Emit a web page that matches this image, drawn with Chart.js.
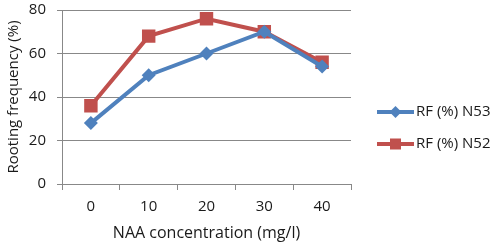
<!DOCTYPE html>
<html>
<head>
<meta charset="utf-8">
<script src="https://cdn.jsdelivr.net/npm/chart.js@4"></script>
<style>
  html, body { margin: 0; padding: 0; background: #fff; }
  #wrap { width: 500px; height: 249px; }
</style>
</head>
<body>
<div id="wrap"><canvas id="chart"></canvas></div>
<script>
var concentrations = ['0', '10', '20', '30', '40'];
var rfN53 = [28, 50, 60, 70, 54];
var rfN52 = [36, 68, 76, 70, 56];
var yTicks = [0, 20, 40, 60, 80];

var blue = '#4F81BD';
var red = '#C0504D';
var textColor = '#1a1a1a';
var fontFamily = '"Open Sans", sans-serif';

// excel-like legend: short line with the marker in the middle
var sideLegend = {
    id: 'sideLegend',
    afterDraw: function(chart) {
        var c = chart.ctx;
        var rows = [112, 144];
        chart.data.datasets.forEach(function(ds, i) {
            var y = rows[i];
            var x0 = 377, x1 = 414, xm = (x0 + x1) / 2;
            c.save();
            c.strokeStyle = ds.borderColor;
            c.lineWidth = 4;
            c.beginPath();
            c.moveTo(x0, y);
            c.lineTo(x1, y);
            c.stroke();
            c.fillStyle = ds.backgroundColor;
            if (ds.pointStyle === 'rectRot') {
                c.beginPath();
                c.moveTo(xm, y - 6);
                c.lineTo(xm + 6, y);
                c.lineTo(xm, y + 6);
                c.lineTo(xm - 6, y);
                c.closePath();
                c.fill();
            } else {
                c.fillRect(xm - 5.5, y - 5.5, 11, 11);
            }
            c.fillStyle = textColor;
            c.font = '15px ' + fontFamily;
            c.textBaseline = 'middle';
            c.fillText(ds.label, 416, y);
            c.restore();
        });
    }
};

var ctx = document.getElementById('chart').getContext('2d');
var myChart = new Chart(ctx, {
    type: 'line',
    data: {
        labels: concentrations,
        datasets: [
            {
                label: 'RF (%) N53',
                data: rfN53,
                borderColor: blue,
                backgroundColor: blue,
                borderWidth: 4,
                pointStyle: 'rectRot',
                pointRadius: 7,
                pointBorderWidth: 0,
                tension: 0
            },
            {
                label: 'RF (%) N52',
                data: rfN52,
                borderColor: red,
                backgroundColor: red,
                borderWidth: 4,
                pointStyle: 'rect',
                pointRadius: 9.5,
                pointBorderWidth: 0,
                tension: 0
            }
        ]
    },
    options: {
        responsive: true,
        maintainAspectRatio: false,
        animation: false,
        layout: { padding: { top: 10, right: 149, left: 0, bottom: 0 } },
        plugins: {
            legend: { display: false },
            tooltip: { enabled: false }
        },
        scales: {
            x: {
                offset: true,
                grid: {
                    offset: true,
                    drawOnChartArea: false,
                    drawTicks: true,
                    tickLength: 6,
                    tickColor: '#888'
                },
                border: { display: true, color: '#888', width: 1 },
                ticks: {
                    color: textColor,
                    font: { family: fontFamily, size: 15 },
                    padding: 8
                },
                title: {
                    display: true,
                    text: 'NAA concentration (mg/l)',
                    color: textColor,
                    font: { family: fontFamily, size: 16 },
                    padding: { top: 4, bottom: 6 }
                },
                afterFit: function(scale) { scale.height = 65; }
            },
            y: {
                min: 0,
                max: 80,
                afterBuildTicks: function(scale) {
                    scale.ticks = yTicks.map(function(v) { return { value: v }; });
                },
                grid: {
                    color: '#888',
                    drawTicks: true,
                    tickLength: 5,
                    tickColor: '#888'
                },
                border: { display: true, color: '#888', width: 1 },
                ticks: {
                    color: textColor,
                    font: { family: fontFamily, size: 15 },
                    padding: 11
                },
                title: {
                    display: true,
                    text: 'Rooting frequency (%)',
                    color: textColor,
                    font: { family: fontFamily, size: 15 },
                    padding: { top: 5, bottom: 0 }
                },
                afterFit: function(scale) {
                    scale.width = 62;
                    scale.paddingTop = 0;
                    scale.paddingBottom = 0;
                }
            }
        }
    },
    plugins: [sideLegend]
});
</script>
</body>
</html>
